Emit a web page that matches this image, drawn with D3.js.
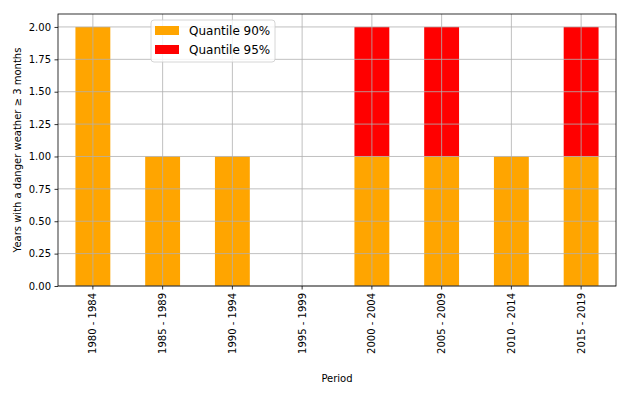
<!DOCTYPE html>
<html><head><meta charset="utf-8">
<script src="https://cdn.jsdelivr.net/npm/d3@7"></script>
<style>body{margin:0;background:#fff;} text{font-family:"DejaVu Sans",sans-serif;}</style>
</head><body>
<svg id="c" width="630" height="398"></svg>
<script>
const categories = ["1980 - 1984","1985 - 1989","1990 - 1994","1995 - 1999","2000 - 2004","2005 - 2009","2010 - 2014","2015 - 2019"];
const q90 = [2,1,1,0,1,1,1,1];
const q95 = [0,0,0,0,1,1,0,1];
const yTicks = [0,0.25,0.5,0.75,1.0,1.25,1.5,1.75,2.0];
const seriesNames = ["Quantile 90%","Quantile 95%"];
const colors = ["#ffa500","#ff0000"];

const svg = d3.select("#c");
const L=58, R=616, T=14, B=286;
const x = d3.scaleBand().domain(categories).range([L,R]).paddingInner(0.5).paddingOuter(0.25);
const y = d3.scaleLinear().domain([0,2.1]).range([B,T]);

const stackData = categories.map((c,i)=>({cat:c, q90:q90[i], q95:q95[i]}));
const stacked = d3.stack().keys(["q90","q95"])(stackData);

stacked.forEach((s,si)=>{
  svg.append("g").selectAll("rect").data(s).join("rect")
    .attr("x",d=>x(d.data.cat)).attr("width",x.bandwidth())
    .attr("y",d=>y(d[1])).attr("height",d=>y(d[0])-y(d[1]))
    .attr("fill",colors[si]);
});

// grid
const g = svg.append("g");
yTicks.forEach(t=>g.append("line").attr("x1",L).attr("x2",R).attr("y1",y(t)).attr("y2",y(t)).attr("stroke","#b0b0b0").attr("stroke-width",0.8));
categories.forEach(c=>{const cx=x(c)+x.bandwidth()/2; g.append("line").attr("x1",cx).attr("x2",cx).attr("y1",T).attr("y2",B).attr("stroke","#b0b0b0").attr("stroke-width",0.8);});

// axes
const ya = svg.append("g").attr("transform",`translate(${L},0)`).call(d3.axisLeft(y).tickValues(yTicks).tickFormat(d3.format(".2f")).tickSize(3.5).tickPadding(3.5));
const xa = svg.append("g").attr("transform",`translate(0,${B})`).call(d3.axisBottom(x).tickSize(3.5).tickPadding(3.5));
[ya,xa].forEach(a=>{a.select(".domain").remove(); a.selectAll("text").attr("font-size",10).attr("fill","#000").attr("font-family","DejaVu Sans"); a.selectAll("line").attr("stroke","#000").attr("stroke-width",0.8);});
xa.selectAll("text").attr("transform","rotate(-90)").attr("text-anchor","end").attr("dy","0.35em").attr("x",-7).attr("y",0);

svg.append("rect").attr("x",L).attr("y",T).attr("width",R-L).attr("height",B-T).attr("fill","none").attr("stroke","#000").attr("stroke-width",0.8);

// labels
svg.append("text").attr("x",(L+R)/2).attr("y",382).attr("text-anchor","middle").attr("font-size",10).text("Period");
svg.append("text").attr("transform",`translate(21,${(T+B)/2}) rotate(-90)`).attr("text-anchor","middle").attr("font-size",10).text("Years with a danger weather ≥ 3 months");

// legend
const lg = svg.append("g");
lg.append("rect").attr("x",151).attr("y",20).attr("width",124).attr("height",42).attr("rx",3).attr("fill","#fff").attr("fill-opacity",0.8).attr("stroke","#ccc").attr("stroke-width",0.8);
seriesNames.forEach((n,i)=>{
  const yy = 31 + i*19;
  lg.append("rect").attr("x",155).attr("y",yy-5).attr("width",24).attr("height",9).attr("fill",colors[i]);
  lg.append("text").attr("x",189).attr("y",yy).attr("dy","0.35em").attr("font-size",12).text(n);
});
</script>
</body></html>
